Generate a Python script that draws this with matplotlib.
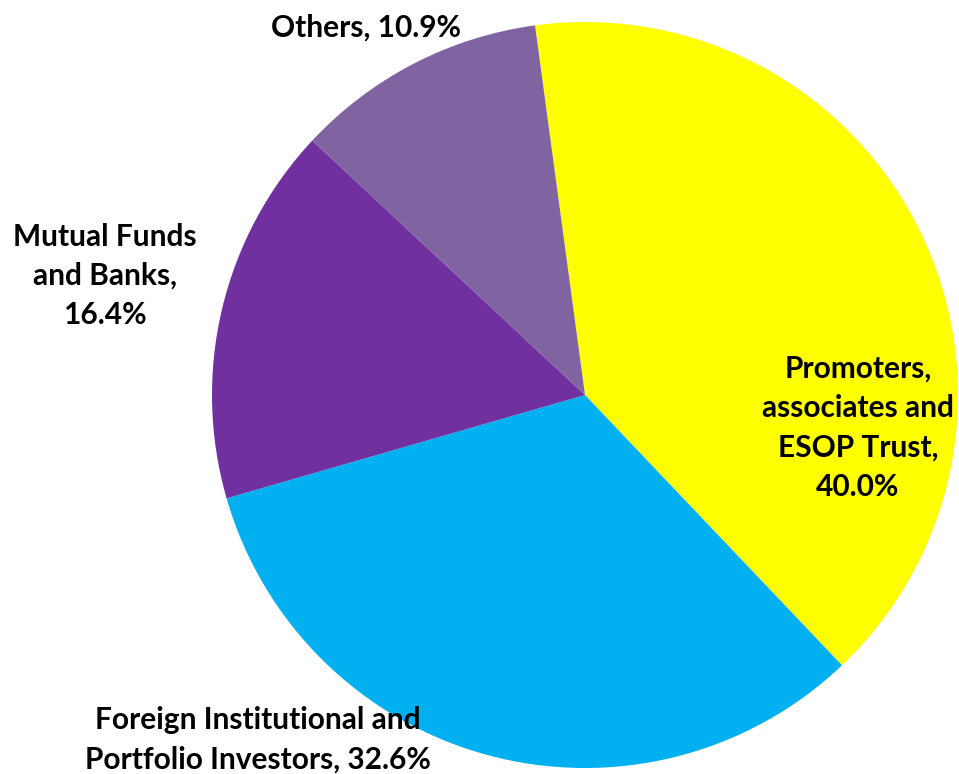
import matplotlib

matplotlib.use("Agg")
import matplotlib.pyplot as plt

labels = [
    "Promoters,\nassociates and\nESOP Trust,\n40.0%",
    "Foreign Institutional and\nPortfolio Investors, 32.6%",
    "Mutual Funds\nand Banks,\n16.4%",
    "Others, 10.9%",
]
shares = [40.0, 32.6, 16.4, 10.9]
colors = ["#FFFF00", "#00B0F0", "#7030A0", "#8064A2"]

# label centres in pixel coords of the reference image
label_px = [(858, 428), (258, 740), (105, 276), (366, 28)]

W, H = 959, 774
CX, CY, R = 585, 395, 373

plt.rcParams["font.family"] = ["Lato", "DejaVu Sans"]

fig = plt.figure(figsize=(W / 100, H / 100), dpi=100)
ax = fig.add_axes([0, 0, 1, 1])
ax.pie(shares, colors=colors, startangle=97.7, counterclock=False,
       radius=1.0, wedgeprops=dict(linewidth=0))
ax.set_xlim(-CX / R, (W - CX) / R)
ax.set_ylim((CY - H) / R, CY / R)
ax.set_aspect("equal")
ax.axis("off")

for text, (px, py) in zip(labels, label_px):
    ax.text((px - CX) / R, (CY - py) / R, text, ha="center", va="center",
            multialignment="center", fontsize=21.5, fontweight="bold",
            linespacing=1.5, color="black")

fig.savefig("out.png", dpi=100, facecolor="white")
